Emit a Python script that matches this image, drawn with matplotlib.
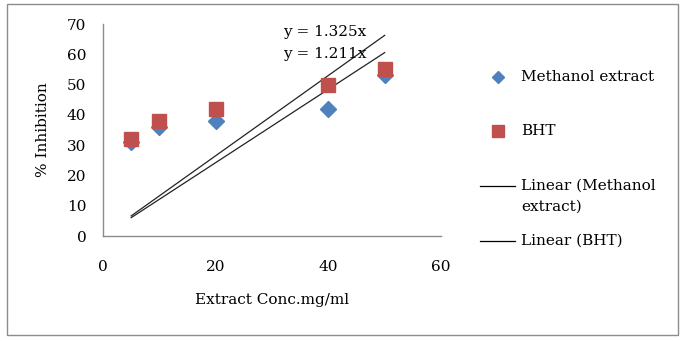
import matplotlib.pyplot as plt
from matplotlib.lines import Line2D
from matplotlib.patches import Rectangle

conc = [5, 10, 20, 40, 50]
methanol = [31, 36, 38, 42, 53]
bht = [32, 38, 42, 50, 55]
slope_methanol = 1.211
slope_bht = 1.325

plt.rcParams['font.family'] = 'DejaVu Serif'
plt.rcParams['font.size'] = 11

fig = plt.figure(figsize=(6.86, 3.41), dpi=100)
W, H = 686, 341
ax = fig.add_axes([103 / W, 1 - 236 / H, 338 / W, 212 / H])

fig.patches.append(Rectangle((7 / W, 1 - 335 / H), 671 / W, 331 / H,
                             transform=fig.transFigure, fill=False,
                             edgecolor='#8c8c8c', linewidth=1))

blue = '#4F81BD'
red = '#C0504D'

xs = [conc[0], conc[-1]]
ax.plot(xs, [slope_bht * x for x in xs], color='#222222', linewidth=0.9)
ax.plot(xs, [slope_methanol * x for x in xs], color='#222222', linewidth=0.9)
ax.plot(conc, methanol, 'D', color=blue, markersize=8, linestyle='none')
ax.plot(conc, bht, 's', color=red, markersize=9.5, linestyle='none')

ax.text(32, 67.2, 'y = 1.325x', ha='left', va='center')
ax.text(32, 60.0, 'y = 1.211x', ha='left', va='center')

ax.set_xlim(0, 60)
ax.set_ylim(0, 70)
ax.set_xticks([0, 20, 40, 60])
ax.set_yticks(range(0, 71, 10))
ax.tick_params(length=0)
ax.tick_params(axis='x', pad=17)
ax.tick_params(axis='y', pad=12)
for s in ['top', 'right']:
    ax.spines[s].set_visible(False)
for s in ['left', 'bottom']:
    ax.spines[s].set_color('#8c8c8c')
    ax.spines[s].set_linewidth(1)

ax.set_xlabel('Extract Conc.mg/ml', labelpad=14)
ax.set_ylabel('% Inhibition', labelpad=12)

# legend laid out by hand, like the Excel one
def fy(p):
    return 1 - p / H

tf = fig.transFigure
fig.add_artist(Line2D([498 / W], [fy(77)], marker='D', color=blue, markersize=6, transform=tf))
fig.add_artist(Line2D([498 / W], [fy(131)], marker='s', color=red, markersize=8, transform=tf))
fig.add_artist(Line2D([480 / W, 515 / W], [fy(186), fy(186)], color='black', linewidth=0.9, transform=tf))
fig.add_artist(Line2D([480 / W, 515 / W], [fy(241), fy(241)], color='black', linewidth=0.9, transform=tf))
fig.text(521 / W, fy(77), 'Methanol extract', va='center')
fig.text(521 / W, fy(131), 'BHT', va='center')
fig.text(521 / W, fy(186), 'Linear (Methanol', va='center')
fig.text(521 / W, fy(207), 'extract)', va='center')
fig.text(521 / W, fy(241), 'Linear (BHT)', va='center')

fig.savefig('out.png', dpi=100)
